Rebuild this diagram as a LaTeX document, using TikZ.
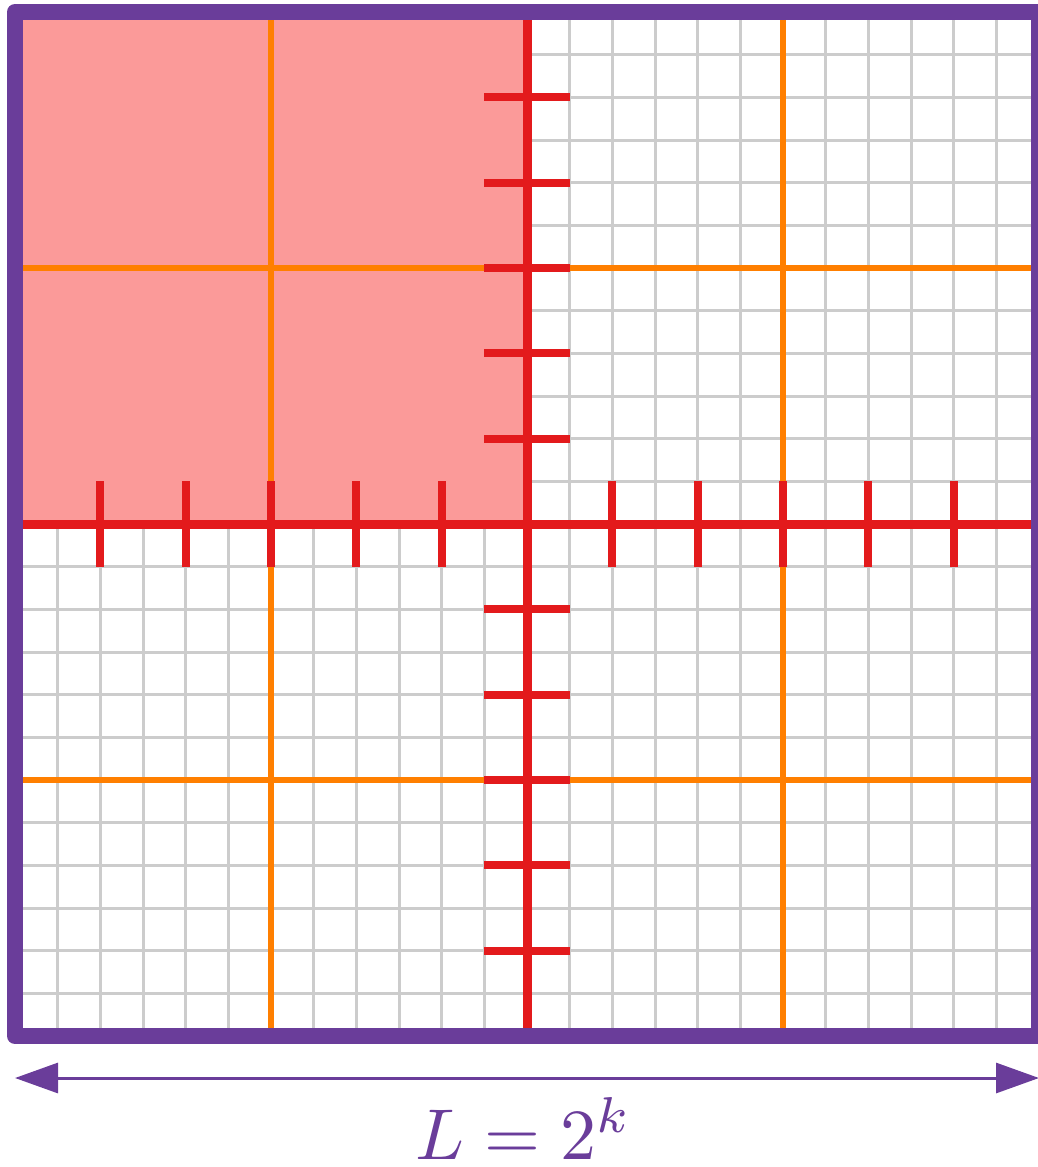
\documentclass[tikz,border=0pt]{standalone}
\usetikzlibrary{arrows.meta}
\definecolor{cpurple}{HTML}{6A3D9A}
\definecolor{cred}{HTML}{E31A1C}
\definecolor{corange}{HTML}{FF7F00}
\definecolor{cpink}{HTML}{FB9A99}
\definecolor{cgrid}{HTML}{CCCCCC}
\tikzset{
  gridline/.style={cgrid, line width=3pt},
  orangeline/.style={corange, line width=5.5pt},
  redline/.style={cred, line width=9pt},
  redtick/.style={cred, line width=8pt},
  border/.style={cpurple, line width=16pt, line join=round},
  dimline/.style={cpurple, line width=3pt, {Triangle[length=43pt,width=30pt]}-{Triangle[length=43pt,width=30pt]}},
}
\begin{document}
\begin{tikzpicture}[x=1pt,y=-1pt]
\useasboundingbox (0,0) rectangle (1038,1167);
\def\cell{42.6667}
% grid
\foreach \i in {1,...,23}{
  \draw[gridline] ({15+\i*\cell},12) -- ({15+\i*\cell},1036);
  \draw[gridline] (15,{12+\i*\cell}) -- (1039,{12+\i*\cell});
}
% pink quadrant
\fill[cpink] (15,12) rectangle (527,524);
% orange lines
\draw[orangeline] (271,12) -- (271,1036);
\draw[orangeline] (783,12) -- (783,1036);
\draw[orangeline] (15,268) -- (1039,268);
\draw[orangeline] (15,780) -- (1039,780);
% red axes
\draw[redline] (527,12) -- (527,1036);
\draw[redline] (15,524) -- (1039,524);
% ticks
\foreach \k in {1,2,3,4,5,7,8,9,10,11}{
  \draw[redtick] ({15+\k*2*\cell},481.33) -- ({15+\k*2*\cell},566.67);
  \draw[redtick] (484.33,{12+\k*2*\cell}) -- (569.67,{12+\k*2*\cell});
}
% border
\draw[border] (15,12) rectangle (1039,1036);
% dimension arrow
\coordinate (al) at (15,1078);
\coordinate (ar) at (1039,1078);
\draw[dimline] (al) -- (ar);
\node[scale=7.2, anchor=base, text=cpurple, inner sep=0pt] (lab) at (524,1159) {$L=2^k$};
\end{tikzpicture}
\end{document}
